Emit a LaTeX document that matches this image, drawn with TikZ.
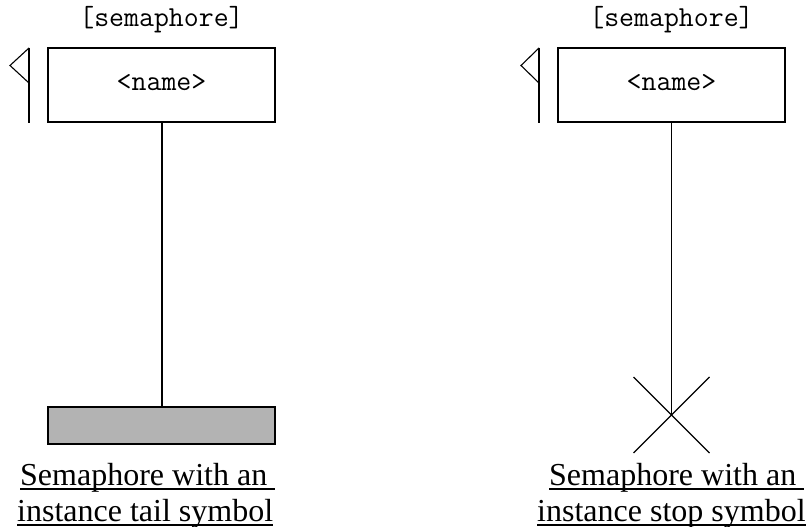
\documentclass[tikz,border=0pt]{standalone}
\usepackage{fontspec}
\setmainfont{Liberation Serif}
\definecolor{tailgray}{RGB}{179,179,179}
\begin{document}
\begin{tikzpicture}[x=1pt,y=-1pt,
  box/.style={draw,line width=2pt,minimum width=227pt,minimum height=74pt,inner sep=0pt},
  tailbox/.style={draw,line width=2pt,fill=tailgray,minimum width=227pt,minimum height=37pt,inner sep=0pt},
  mono/.style={font=\fontsize{29}{32}\ttfamily,inner sep=0pt,anchor=base},
  captext/.style={font=\fontsize{32}{36}\selectfont,inner sep=0pt,anchor=base west},
  ul/.style={line width=2pt},
  thick2/.style={line width=2pt},
  thin1/.style={line width=1.1pt}]
\useasboundingbox (0,0) rectangle (809,527);

% ---------- left: semaphore with tail ----------
\node[mono] (s1) at (161.5,27) {[semaphore]};
\node[box] (b1) at (161.5,85) {};
\node[mono] (n1) at (161.5,91) {<name>};
\coordinate (f1t) at (29,48);
\coordinate (f1b) at (29,123);
\coordinate (f1p) at (10,65.5);
\coordinate (f1c) at (29,83);
\draw[thick2] (f1t) -- (f1b);
\draw[thin1] (f1t) -- (f1p) -- (f1c);
\node[tailbox] (t1) at (161.5,425.5) {};
\draw[thick2] (b1.south) -- (t1.north);
\node[captext] (c1a) at (20,485) {Semaphore with an\kern0.25em};
\draw[ul] ([yshift=-4pt]c1a.base west) -- ([yshift=-4pt]c1a.base east);
\node[captext] (c1b) at (17,521) {instance tail symbol};
\draw[ul] ([yshift=-4pt]c1b.base west) -- ([yshift=-4pt]c1b.base east);

% ---------- right: semaphore with stop ----------
\node[mono] (s2) at (671.5,27) {[semaphore]};
\node[box] (b2) at (671.5,85) {};
\node[mono] (n2) at (671.5,91) {<name>};
\coordinate (f2t) at (539,48);
\coordinate (f2b) at (539,123);
\coordinate (f2p) at (521,65.5);
\coordinate (f2c) at (539,83);
\draw[thick2] (f2t) -- (f2b);
\draw[thin1] (f2t) -- (f2p) -- (f2c);
\coordinate (x2) at (671.5,415);
\coordinate (x2tl) at (633.5,377);
\coordinate (x2tr) at (709.5,377);
\coordinate (x2bl) at (633.5,453);
\coordinate (x2br) at (709.5,453);
\draw[thin1] (b2.south) -- (x2);
\draw[thin1] (x2tl) -- (x2br);
\draw[thin1] (x2tr) -- (x2bl);
\node[captext] (c2a) at (549,485) {Semaphore with an\kern0.25em};
\draw[ul] ([yshift=-4pt]c2a.base west) -- ([yshift=-4pt]c2a.base east);
\node[captext] (c2b) at (537,521) {instance stop symbol};
\draw[ul] ([yshift=-4pt]c2b.base west) -- ([yshift=-4pt]c2b.base east);
\end{tikzpicture}
\end{document}
